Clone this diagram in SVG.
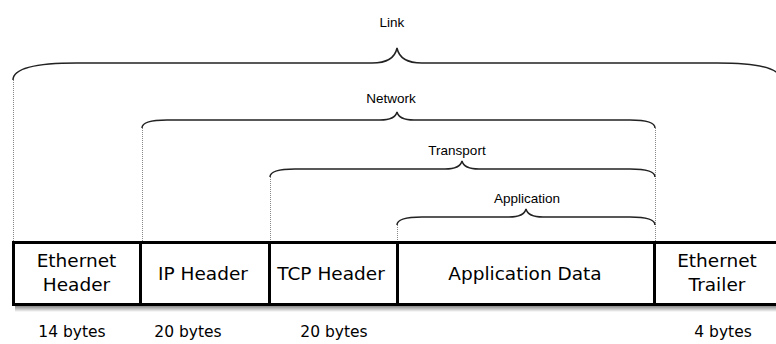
<svg xmlns="http://www.w3.org/2000/svg" width="776" height="344" viewBox="0 0 776 344">
<style>
.brace{fill:none;stroke:#222;stroke-width:1.5}
.dot{fill:none;stroke:#888;stroke-width:1;stroke-dasharray:1 1}
.lbl{font-family:"Liberation Sans",Arial,sans-serif;font-size:13.5px;fill:#000;text-anchor:middle}
.cell{font-family:"DejaVu Sans",sans-serif;font-size:18.5px;fill:#000;text-anchor:middle}
.bytes{font-family:"DejaVu Sans",sans-serif;font-size:15.5px;fill:#000;text-anchor:middle}
.box{fill:#fff;stroke:#000;stroke-width:3}
</style>
<defs>
<linearGradient id="sh" x1="0" y1="0" x2="0" y2="1">
<stop offset="0" stop-color="#777"/>
<stop offset="1" stop-color="#fff"/>
</linearGradient>
</defs>
<rect width="776" height="344" fill="#fff"/>
<g id="connectors">
<line class="dot" x1="13.5" y1="80" x2="13.5" y2="241"/>
<line class="dot" x1="142.5" y1="128" x2="142.5" y2="241"/>
<line class="dot" x1="270.5" y1="177" x2="270.5" y2="241"/>
<line class="dot" x1="397.5" y1="225" x2="397.5" y2="241"/>
<line class="dot" x1="655.5" y1="128" x2="655.5" y2="241"/>
</g>
<g id="brace-link">
<path class="brace" d="M13,80 Q13,63 77,63 L372,63 Q394,63 397,48 Q400,63 422,63 L717,63 Q781,63 781,80"/>
<text class="lbl" x="392" y="27">Link</text>
</g>
<g id="brace-network">
<path class="brace" d="M142,128 Q142,120 167,120 L380,120 Q395,120 397,112 Q399,120 414,120 L630,120 Q655,120 655,128"/>
<text class="lbl" x="391" y="103">Network</text>
</g>
<g id="brace-transport">
<path class="brace" d="M270,177 Q270,169 295,169 L445,169 Q460,169 462,161 Q464,169 479,169 L630,169 Q655,169 655,177"/>
<text class="lbl" x="457" y="155">Transport</text>
</g>
<g id="brace-application">
<path class="brace" d="M397,225 Q397,217 422,217 L509,217 Q524,217 526,209 Q528,217 543,217 L630,217 Q655,217 655,225"/>
<text class="lbl" x="527" y="203">Application</text>
</g>
<rect x="15" y="305" width="761" height="7" fill="url(#sh)"/>
<g id="ethernet-header">
<rect class="box" x="13.5" y="242.5" width="127" height="62"/>
<text class="cell" x="76.5" y="267">Ethernet</text>
<text class="cell" x="76.5" y="291">Header</text>
</g>
<g id="ip-header">
<rect class="box" x="140.5" y="242.5" width="129" height="62"/>
<text class="cell" x="203" y="280">IP Header</text>
</g>
<g id="tcp-header">
<rect class="box" x="269.5" y="242.5" width="128" height="62"/>
<text class="cell" x="331" y="280">TCP Header</text>
</g>
<g id="application-data">
<rect class="box" x="397.5" y="242.5" width="257" height="62"/>
<text class="cell" x="525" y="280">Application Data</text>
</g>
<g id="ethernet-trailer">
<rect class="box" x="654.5" y="242.5" width="130" height="62"/>
<text class="cell" x="717" y="267">Ethernet</text>
<text class="cell" x="717" y="291">Trailer</text>
</g>
<g id="sizes">
<text class="bytes" x="72" y="337">14 bytes</text>
<text class="bytes" x="188" y="337">20 bytes</text>
<text class="bytes" x="334" y="337">20 bytes</text>
<text class="bytes" x="723" y="337">4 bytes</text>
</g>
</svg>
